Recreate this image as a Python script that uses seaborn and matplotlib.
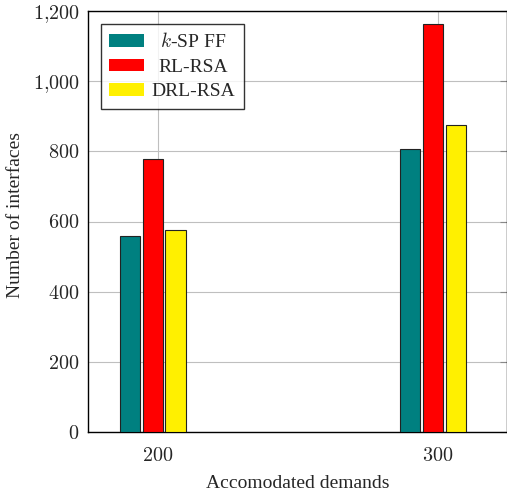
import pandas as pd
import matplotlib
matplotlib.use("Agg")
import matplotlib.pyplot as plt
from matplotlib.ticker import FuncFormatter
import seaborn as sns

# values
demands = ["200", "300"]
methods = ["$k$-SP FF", "RL-RSA", "DRL-RSA"]
ksp_ff = [560, 807]
rl_rsa = [777, 1163]
drl_rsa = [575, 875]
colors = ["#008080", "#FF0000", "#FFF000"]

df = pd.DataFrame({
    "demands": demands * 3,
    "method": [m for m in methods for _ in demands],
    "interfaces": ksp_ff + rl_rsa + drl_rsa,
})

sns.set_style("white")
plt.rcParams["font.family"] = ["Liberation Serif", "DejaVu Serif"]
plt.rcParams["mathtext.fontset"] = "cm"

fig = plt.figure(figsize=(5.07, 4.93), dpi=100)
ax = fig.add_axes([88 / 507, 61 / 493, 419.5 / 507, 421 / 493])

sns.barplot(data=df, x="demands", y="interfaces", hue="method",
            palette=colors, saturation=1, width=0.244, gap=0.1,
            edgecolor="#222222", linewidth=0.8, ax=ax, zorder=3)

# bar groups sit a little left of the tick in the original
ax.set_xlim(-0.232, 1.266)
ax.set_xticks([0.018, 1.018], [f"${d}$" for d in demands])
ax.set_ylim(0, 1200)
ax.set_yticks(range(0, 1201, 200))
ax.yaxis.set_major_formatter(FuncFormatter(lambda v, p: "$" + f"{int(v):,}".replace(",", "{,}") + "$"))
ax.grid(True, color="#bfbfbf", linewidth=0.8, zorder=0)
ax.set_axisbelow(True)

for s in ax.spines.values():
    s.set_color("black")
    s.set_linewidth(1.0)
ax.tick_params(axis="y", direction="in", right=True, length=5, color="#888888",
               labelsize=14.5, pad=6)
ax.tick_params(axis="x", direction="out", length=5, color="#888888",
               labelsize=14.5, pad=6)

ax.set_xlabel("Accomodated demands", fontsize=14, labelpad=6)
ax.set_ylabel("Number of interfaces", fontsize=14)
ax.yaxis.set_label_coords(-0.152, 0.515)

leg = ax.legend(loc="upper left", bbox_to_anchor=(0.03, 0.97), fontsize=14,
                frameon=True, fancybox=False, edgecolor="black",
                handlelength=1.8, handleheight=0.6, handletextpad=0.35,
                borderpad=0.45, labelspacing=0.38, borderaxespad=0)
leg.get_frame().set_linewidth(1.0)
for h in leg.legend_handles:
    h.set_edgecolor("none")

# centre the legend texts in their column, as in the original
fig.canvas.draw()
renderer = fig.canvas.get_renderer()
widths = [t.get_window_extent(renderer).width for t in leg.get_texts()]
for t, w in zip(leg.get_texts(), widths):
    t.set_position(((max(widths) - w) / 2, 0))

fig.savefig("out.png", dpi=100)
